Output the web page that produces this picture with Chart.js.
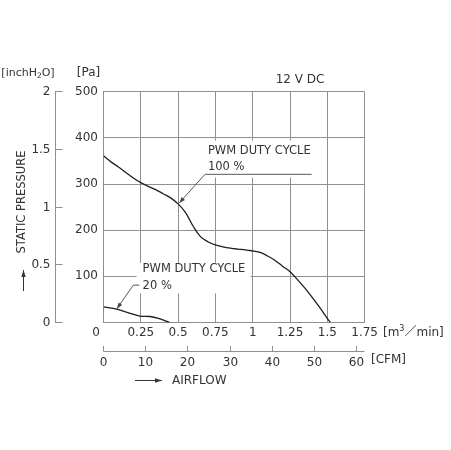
<!DOCTYPE html>
<html><head><meta charset="utf-8">
<script src="https://cdn.jsdelivr.net/npm/chart.js@4/dist/chart.umd.min.js"></script>
<style>html,body{margin:0;padding:0;background:#fff}#wrap{width:451px;height:450px}</style>
</head><body><div id="wrap"><canvas id="c" width="451" height="450"></canvas></div>
<script>
// ---- data ----
const flow100 = [0, 0.05, 0.1, 0.15, 0.2, 0.25, 0.3, 0.35, 0.4, 0.45, 0.5, 0.55, 0.6, 0.65, 0.7, 0.75, 0.8, 0.85, 0.9, 0.95, 1.0, 1.05, 1.1, 1.15, 1.2, 1.25, 1.3, 1.35, 1.4, 1.45, 1.5, 1.52];
const pa100   = [361, 348, 337, 325, 313, 303, 295, 288, 279, 270, 257, 238, 209, 186, 175, 168, 164, 161, 159, 157.5, 155, 152, 144, 134.5, 122, 110, 93, 74.5, 54, 32, 9, 0];
const flow20  = [0, 0.089, 0.178, 0.245, 0.312, 0.368, 0.445];
const pa20    = [34, 29, 20, 14, 13, 9, 0];
const flowTicks = [0, 0.25, 0.5, 0.75, 1, 1.25, 1.5, 1.75];
const paTicks   = [0, 100, 200, 300, 400, 500];
const inchTicks = [0, 0.5, 1, 1.5, 2];
const cfmTicks  = [0, 10, 20, 30, 40, 50, 60];
const CFM_PER_M3MIN = 35.3147;
const title = '12 V DC';
const labels100 = ['PWM DUTY CYCLE', '100 %'];
const labels20  = ['PWM DUTY CYCLE', '20 %'];

const GRID = '#8f8f8f', INK = '#333333', CURVE = '#1e1e1e';
const FONT = "'DejaVu Sans', 'Noto Sans CJK JP', sans-serif";
Chart.defaults.font.family = FONT;
Chart.defaults.font.size = 12;
Chart.defaults.color = INK;

const xy = (xs, ys) => xs.map((x, i) => ({x, y: ys[i]}));

// annotation placement in data units
const ann = [
  {lines: labels100, x: 0.70, ys: [372, 337], mask: [0.672, 1.425, 394, 314],
   leader: [[1.395, 321], [0.68, 321], [0.508, 259]]},
  {lines: labels20, x: 0.262, ys: [115, 78], mask: [0.222, 0.985, 129, 63],
   leader: [[0.24, 81], [0.2, 81], [0.09, 30]]}
];

function arrow(ctx, x0, y0, x1, y1, len, wid) {
  ctx.beginPath(); ctx.moveTo(x0, y0); ctx.lineTo(x1, y1); ctx.stroke();
  const a = Math.atan2(y1 - y0, x1 - x0);
  ctx.beginPath();
  ctx.moveTo(x1, y1);
  ctx.lineTo(x1 - len * Math.cos(a) + wid * Math.sin(a), y1 - len * Math.sin(a) - wid * Math.cos(a));
  ctx.lineTo(x1 - len * Math.cos(a) - wid * Math.sin(a), y1 - len * Math.sin(a) + wid * Math.cos(a));
  ctx.closePath(); ctx.fill();
}

// text with a small raised/lowered digit: parts = [[text, size, dy], ...]
function richText(ctx, parts, x, y, align) {
  let w = 0;
  for (const [t, s] of parts) { ctx.font = s + 'px ' + FONT; w += ctx.measureText(t).width; }
  let cx = align === 'center' ? x - w / 2 : x;
  ctx.textAlign = 'left';
  for (const [t, s, dy] of parts) {
    ctx.font = s + 'px ' + FONT;
    ctx.fillText(t, cx, y + dy);
    cx += ctx.measureText(t).width;
  }
}

const decor = {
  id: 'decor',
  beforeDatasetsDraw(chart) {
    const {ctx, scales: {x, y}} = chart;
    ctx.save(); ctx.fillStyle = '#fff';
    for (const a of ann) {
      const x0 = x.getPixelForValue(a.mask[0]), x1 = x.getPixelForValue(a.mask[1]);
      const y0 = y.getPixelForValue(a.mask[2]), y1 = y.getPixelForValue(a.mask[3]);
      ctx.fillRect(x0, y0, x1 - x0, y1 - y0);
    }
    ctx.restore();
  },
  afterDraw(chart) {
    const {ctx, scales: {x, y, inch, cfm}} = chart;
    ctx.save();
    ctx.fillStyle = INK; ctx.strokeStyle = INK;
    ctx.textBaseline = 'middle';

    // annotations
    ctx.font = '11.5px ' + FONT;
    ctx.textAlign = 'left';
    for (const a of ann) {
      a.lines.forEach((t, i) => ctx.fillText(t, x.getPixelForValue(a.x), y.getPixelForValue(a.ys[i])));
      ctx.strokeStyle = '#444'; ctx.fillStyle = '#444'; ctx.lineWidth = 0.9;
      const p = a.leader.map(([fx, py]) => [x.getPixelForValue(fx), y.getPixelForValue(py)]);
      ctx.beginPath(); ctx.moveTo(p[0][0], p[0][1]); ctx.lineTo(p[1][0], p[1][1]); ctx.stroke();
      arrow(ctx, p[1][0], p[1][1], p[2][0], p[2][1], 6, 2.2);
      ctx.fillStyle = INK; ctx.strokeStyle = INK;
    }

    // title
    ctx.font = '12px ' + FONT;
    ctx.textAlign = 'center';
    ctx.fillText(title, 300, 80);

    // shared origin label
    ctx.fillText('0', 96, 332.5);

    // inchH2O axis
    ctx.strokeStyle = GRID; ctx.lineWidth = 1;
    const ax = 55.5;
    ctx.beginPath(); ctx.moveTo(ax, inch.getPixelForValue(2)); ctx.lineTo(ax, inch.getPixelForValue(0)); ctx.stroke();
    ctx.textAlign = 'right';
    for (const v of inchTicks) {
      const py = Math.round(inch.getPixelForValue(v) - 0.5) + 0.5;
      ctx.beginPath(); ctx.moveTo(ax - 0.5, py); ctx.lineTo(ax + 7, py); ctx.stroke();
      ctx.fillText(String(v), 50.5, py);
    }

    // CFM axis
    const cy = 351.5;
    ctx.beginPath(); ctx.moveTo(cfm.getPixelForValue(0), cy); ctx.lineTo(cfm.getPixelForValue(cfm.max), cy); ctx.stroke();
    ctx.textAlign = 'center';
    for (const v of cfmTicks) {
      const px = Math.round(cfm.getPixelForValue(v) - 0.5) + 0.5;
      ctx.beginPath(); ctx.moveTo(px, cy); ctx.lineTo(px, cy - 5.5); ctx.stroke();
      ctx.fillText(String(v), px, 363);
    }
    ctx.textAlign = 'left';
    ctx.fillText('[CFM]', 371, 359.5);
    richText(ctx, [['[m', 12, 0], ['3', 8, -4], ['／min]', 12, 0]], 383, 332.5, 'left');

    // left unit titles
    richText(ctx, [['[inchH', 11, 0], ['2', 7.5, 3], ['O]', 11, 0]], 28, 73, 'center');
    ctx.font = '12px ' + FONT;
    ctx.textAlign = 'center';
    ctx.fillText('[Pa]', 88.5, 73);

    // AIRFLOW
    ctx.strokeStyle = INK; ctx.fillStyle = INK; ctx.lineWidth = 1;
    arrow(ctx, 135, 380.5, 162, 380.5, 7, 2.2);
    ctx.textAlign = 'left';
    ctx.fillText('AIRFLOW', 172, 380.5);

    // STATIC PRESSURE
    ctx.save();
    ctx.translate(22.5, 202);
    ctx.rotate(-Math.PI / 2);
    ctx.textAlign = 'center';
    ctx.font = '11.5px ' + FONT;
    ctx.fillText('STATIC PRESSURE', 0, 0);
    ctx.restore();
    arrow(ctx, 23.5, 291, 23.5, 270, 7, 2.2);

    ctx.restore();
  }
};

new Chart(document.getElementById('c'), {
  type: 'line',
  data: {
    datasets: [
      {data: xy(flow100, pa100), borderColor: CURVE, borderWidth: 1.3, pointRadius: 0, tension: 0.4, fill: false},
      {data: xy(flow20, pa20), borderColor: CURVE, borderWidth: 1.3, pointRadius: 0, tension: 0.35, fill: false}
    ]
  },
  options: {
    responsive: false, animation: false, devicePixelRatio: 1,
    layout: {padding: {left: 53.5, right: 86.4, top: 91.7, bottom: 107.5}},
    plugins: {legend: {display: false}, tooltip: {enabled: false}},
    scales: {
      x: {
        type: 'linear', position: 'bottom', min: 0, max: 1.75,
        afterBuildTicks: s => { s.ticks = flowTicks.map(v => ({value: v})); },
        afterFit: s => { s.height = 20; },
        grid: {color: GRID, lineWidth: 1, drawTicks: false},
        border: {color: GRID},
        ticks: {padding: 3, maxRotation: 0, autoSkip: false, callback: v => v === 0 ? '' : String(v)}
      },
      y: {
        type: 'linear', position: 'left', min: 0, max: 500,
        afterBuildTicks: s => { s.ticks = paTicks.map(v => ({value: v})); },
        afterFit: s => { s.width = 50; },
        grid: {color: GRID, lineWidth: 1, drawTicks: false},
        border: {color: GRID},
        ticks: {padding: 5.5, callback: v => v === 0 ? '' : String(v)}
      },
      inch: {type: 'linear', position: 'left', display: false, min: 0, max: 2},
      cfm: {type: 'linear', position: 'bottom', display: false, min: 0, max: 1.75 * CFM_PER_M3MIN}
    }
  },
  plugins: [decor]
});
</script>
</body></html>
